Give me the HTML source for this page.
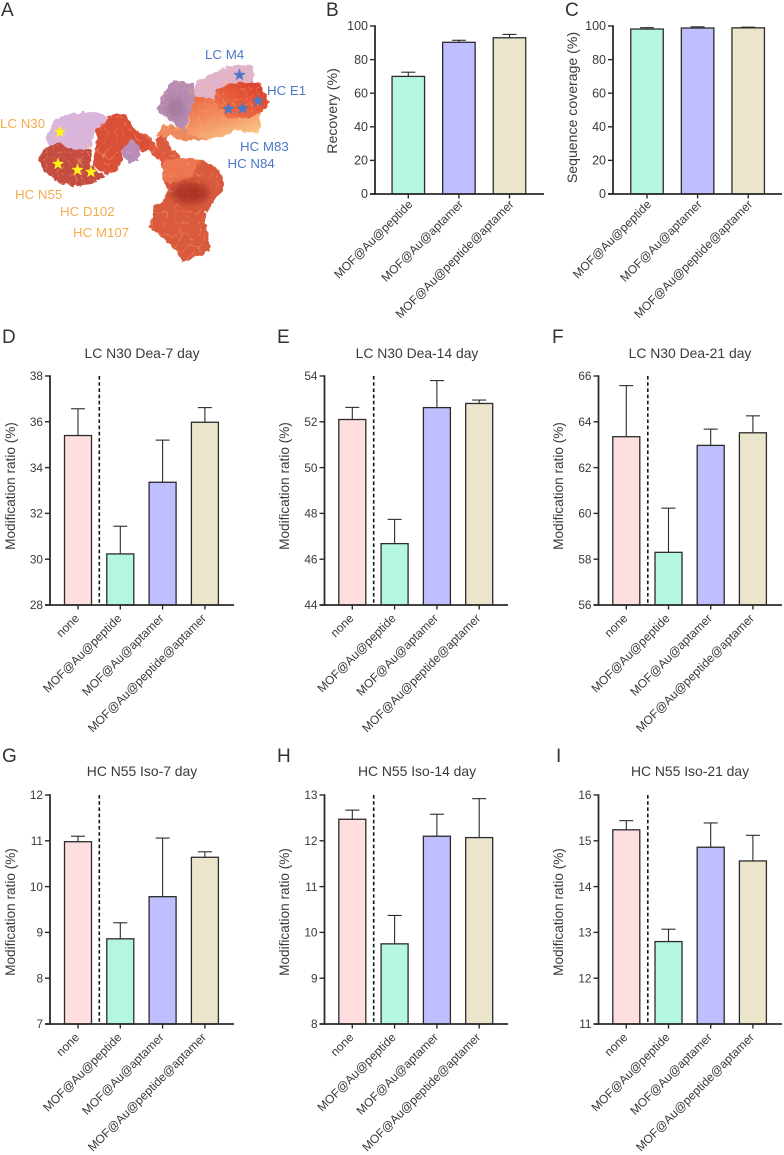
<!DOCTYPE html>
<html lang="en">
<head>
<meta charset="utf-8">
<title>MOF@Au modification ratio figure</title>
<style>
html,body{margin:0;padding:0;background:#fff;}
svg{display:block;font-family:"Liberation Sans",sans-serif;}
</style>
</head>
<body>
<svg id="fig" width="784" height="1155" viewBox="0 0 784 1155" xmlns="http://www.w3.org/2000/svg">
  <defs>
    <filter id="bumpy" x="-10%" y="-10%" width="120%" height="120%" color-interpolation-filters="sRGB">
      <feTurbulence type="fractalNoise" baseFrequency="0.16" numOctaves="2" seed="4" result="n"/>
      <feDisplacementMap in="SourceGraphic" in2="n" scale="6" xChannelSelector="R" yChannelSelector="G" result="d"/>
      <feTurbulence type="turbulence" baseFrequency="0.085" numOctaves="2" seed="9"/>
      <feColorMatrix type="matrix" values="0 0 0 0 1  0 0 0 0 0.72  0 0 0 0 0.5  -5 0 0 0 0.5" result="lines"/>
      <feComposite in="lines" in2="d" operator="in" result="veins"/>
      <feMerge><feMergeNode in="d"/><feMergeNode in="veins"/></feMerge>
    </filter>
    <filter id="soft" x="-30%" y="-30%" width="160%" height="160%"><feGaussianBlur stdDeviation="4"/></filter>
    <linearGradient id="orangeGrad" x1="0.2" y1="0" x2="0.8" y2="1">
      <stop offset="0" stop-color="#ee6d48"/><stop offset="0.55" stop-color="#f49a68"/><stop offset="1" stop-color="#fbd08e"/>
    </linearGradient>
    <linearGradient id="redGrad" x1="1" y1="0" x2="0" y2="1">
      <stop offset="0" stop-color="#d83a26"/><stop offset="1" stop-color="#f27a4e"/>
    </linearGradient>
  </defs>

  <g id="antibody">
    <g filter="url(#bumpy)">
      <path fill="#da5a3e" d="M156,139 L165,133 171,147 181,158 200,160 215,165 223,176 222,190 212,205 205,212 207,235 210,250 195,258 182,262 175,250 165,240 149,228 155,205 163,200 168,190 165,181 163,180 162,166 Z"/>
      <path fill="#ec7650" d="M163,158 L180,158 200,160 192,176 172,184 164,180 Z"/>
      <path fill="#e2583c" d="M137,130 L152,138 160,152 165,160 156,158 148,150 140,148 Z"/>
      <path fill="#d94f38" d="M96,130 L110,114 125,114 135,130 150,140 149,148 143,152 130,146 122,150 122,165 108,176 92,166 97,146 Z"/>
      <path fill="#c44c40" d="M43,150 L55,141 75,146 91,150 90,165 106,177 96,181 80,187 60,184 44,172 39,160 Z"/>
      <path fill="#d9b4dc" d="M47,137 L55,119 70,113 95,112 108,118 96,130 90,148 75,150 60,143 48,145 Z"/>
      <path fill="#b88cb8" d="M123,146 L132,140 141,148 139,160 128,164 122,155 Z"/>
      <path fill="#f08a5e" d="M156,137 L163,124 185,128 200,134 207,140 185,140 168,136 Z"/>
      <path fill="#b98cb2" d="M160,97 L173,80 193,83 197,97 190,117 185,132 167,118 157,113 Z"/>
      <path fill="#e1b4cc" d="M195,82 L215,72 235,64 254,66 254,84 230,88 222,102 195,100 Z"/>
      <path fill="url(#orangeGrad)" d="M195,97 L213,99 224,108 262,108 259,134 236,130 228,135 207,140 186,133 190,117 Z"/>
      <path fill="url(#redGrad)" d="M216,90 L232,83 260,83 269,103 262,112 250,118 228,118 222,112 214,102 Z"/>
    </g>
    <ellipse cx="190" cy="193" rx="19" ry="11" fill="#99281c" opacity="0.7" filter="url(#soft)"/>
    <ellipse cx="176" cy="108" rx="9" ry="12" fill="#8f6f8f" opacity="0.55" filter="url(#soft)"/>
  </g>

  <g id="stars"></g>

  <g id="site-labels" font-size="13.3">
    <text x="205" y="59" fill="#4a78c8">LC M4</text>
    <text x="267" y="95" fill="#4a78c8">HC E1</text>
    <text x="240" y="151" fill="#4a78c8">HC M83</text>
    <text x="227.5" y="168" fill="#4a78c8">HC N84</text>
    <text x="0" y="128" fill="#f5ab4e">LC N30</text>
    <text x="15" y="199" fill="#f5ab4e">HC N55</text>
    <text x="60" y="216" fill="#f5ab4e">HC D102</text>
    <text x="73" y="237" fill="#f5ab4e">HC M107</text>
  </g>

  <g id="panel-letters" fill="#333" font-size="19">
    <text x="1" y="16">A</text>
    <text x="326" y="16">B</text>
    <text x="565" y="16">C</text>
    <text x="2" y="343">D</text>
    <text x="277" y="343">E</text>
    <text x="552" y="343">F</text>
    <text x="2" y="762">G</text>
    <text x="277" y="762">H</text>
    <text x="556" y="762">I</text>
  </g>
  <g id="charts"></g>
</svg>

<script>
// ---------- Chart data ----------
const categoriesFour = ['none', 'MOF@Au@peptide', 'MOF@Au@aptamer', 'MOF@Au@peptide@aptamer'];
const categoriesThree = ['MOF@Au@peptide', 'MOF@Au@aptamer', 'MOF@Au@peptide@aptamer'];

const recoveryValues = [70, 90.3, 93];
const recoveryErrorTops = [72.5, 91.5, 95];
const recoveryTicks = [0, 20, 40, 60, 80, 100];

const coverageValues = [98.2, 98.8, 98.9];
const coverageErrorTops = [99, 99.5, 99.3];
const coverageTicks = [0, 20, 40, 60, 80, 100];

const lcN30Day7Values = [35.4, 30.23, 33.36, 35.98];
const lcN30Day7ErrorTops = [36.57, 31.44, 35.2, 36.62];
const lcN30Day7Ticks = [28, 30, 32, 34, 36, 38];

const lcN30Day14Values = [52.1, 46.68, 52.62, 52.8];
const lcN30Day14ErrorTops = [52.63, 47.74, 53.8, 52.95];
const lcN30Day14Ticks = [44, 46, 48, 50, 52, 54];

const lcN30Day21Values = [63.35, 58.3, 62.97, 63.52];
const lcN30Day21ErrorTops = [65.58, 60.23, 63.68, 64.26];
const lcN30Day21Ticks = [56, 58, 60, 62, 64, 66];

const hcN55Day7Values = [10.98, 8.86, 9.78, 10.64];
const hcN55Day7ErrorTops = [11.1, 9.21, 11.06, 10.76];
const hcN55Day7Ticks = [7, 8, 9, 10, 11, 12];

const hcN55Day14Values = [12.47, 9.75, 12.1, 12.07];
const hcN55Day14ErrorTops = [12.67, 10.37, 12.58, 12.92];
const hcN55Day14Ticks = [8, 9, 10, 11, 12, 13];

const hcN55Day21Values = [15.24, 12.8, 14.86, 14.56];
const hcN55Day21ErrorTops = [15.44, 13.07, 15.39, 15.12];
const hcN55Day21Ticks = [11, 12, 13, 14, 15, 16];

// ---------- Drawing ----------
const NS = 'http://www.w3.org/2000/svg';
const INK = '#2b2b2b';
const TEXT = '#3a3a3a';
const PINK = '#ffdee0', GREEN = '#b5f7de', PURPLE = '#bfbfff', BEIGE = '#ebe6cb';
const chartsRoot = document.getElementById('charts');

function make(tag, attrs, parent, text) {
  const el = document.createElementNS(NS, tag);
  for (const k in attrs) el.setAttribute(k, attrs[k]);
  if (text !== undefined) el.textContent = text;
  parent.appendChild(el);
  return el;
}

function drawChart(cfg) {
  const g = make('g', {}, chartsRoot);
  
  

  const lo = cfg.ticks[0], hi = cfg.ticks[cfg.ticks.length - 1];
  const yScale = v => cfg.bottom - (v - lo) / (hi - lo) * (cfg.bottom - cfg.top);
  const xScale = i => cfg.firstCenter + i * cfg.step;

  // bars and error bars
  cfg.values.forEach((v, i) => {
    const cx = xScale(i), y = yScale(v), yTop = yScale(cfg.errorTops[i]);
    const stem = make('line', {x1: cx, x2: cx, y1: y, y2: yTop, stroke: INK, 'stroke-width': 1.1}, g);
    
    
    const cap = make('line', {x1: cx - 7, x2: cx + 7, y1: yTop, y2: yTop, stroke: INK, 'stroke-width': 1.1}, g);
    
    
    const bar = make('rect', {x: cx - cfg.barWidth / 2, y: y, width: cfg.barWidth, height: cfg.bottom - y, fill: cfg.colors[i], stroke: INK, 'stroke-width': 1.3}, g);
    
    
  });

  // dashed separator
  if (cfg.dashX) {
    const dash = make('line', {x1: cfg.dashX, x2: cfg.dashX, y1: cfg.top, y2: cfg.bottom, stroke: '#111', 'stroke-width': 1.6, 'stroke-dasharray': '3.6 2.6'}, g);
    
    
  }

  // y axis
  const yAxis = make('line', {x1: cfg.axisX, x2: cfg.axisX, y1: cfg.top - 0.8, y2: cfg.bottom + 0.8, stroke: INK, 'stroke-width': 1.8}, g);
  
  
  cfg.ticks.forEach(t => {
    const y = yScale(t);
    const tick = make('line', {x1: cfg.axisX - 5, x2: cfg.axisX, y1: y, y2: y, stroke: INK, 'stroke-width': 1.4}, g);
    
    
    const lab = make('text', {x: cfg.axisX - 7, y: y + 4.2, 'text-anchor': 'end', 'font-size': cfg.tickFont, fill: TEXT}, g, String(t));
    
    
  });

  // x axis
  const xAxis = make('line', {x1: cfg.axisX - 5, x2: cfg.axisRight, y1: cfg.bottom, y2: cfg.bottom, stroke: INK, 'stroke-width': 1.7}, g);
  
  
  cfg.categories.forEach((c, i) => {
    const cx = xScale(i);
    const tick = make('line', {x1: cx, x2: cx, y1: cfg.bottom, y2: cfg.bottom + 4.5, stroke: INK, 'stroke-width': 1.4}, g);
    
    
    const lx = cx + cfg.labelDx, ly = cfg.bottom + cfg.labelDy;
    const lab = make('text', {x: lx, y: ly, 'text-anchor': 'end', 'font-size': 12, fill: TEXT, transform: 'rotate(-45 ' + lx + ' ' + ly + ')'}, g, c);
    
    
  });

  // y title
  const yt = make('text', {x: 0, y: 0, 'text-anchor': 'middle', 'font-size': cfg.yTitleFont, fill: TEXT, transform: 'translate(' + cfg.yTitleX + ' ' + cfg.yTitleY + ') rotate(-90)'}, g, cfg.yTitle);
  
  

  // chart title
  if (cfg.title) {
    const tt = make('text', {x: cfg.titleX, y: cfg.titleY, 'text-anchor': 'middle', 'font-size': 13.9, fill: TEXT}, g, cfg.title);
    
    
  }
}

const threeColors = [GREEN, PURPLE, BEIGE];
const fourColors = [PINK, GREEN, PURPLE, BEIGE];

drawChart({id: 'recovery', categories: categoriesThree, values: recoveryValues, errorTops: recoveryErrorTops, ticks: recoveryTicks, colors: threeColors,
  axisX: 375, axisRight: 544, top: 26, bottom: 194, firstCenter: 408.3, step: 50.6, barWidth: 32.5, tickFont: 12.5, labelDx: 5, labelDy: 11, yTitleFont: 14.1,
  yTitle: 'Recovery (%)', yTitleX: 337, yTitleY: 111});
drawChart({id: 'sequence-coverage', categories: categoriesThree, values: coverageValues, errorTops: coverageErrorTops, ticks: coverageTicks, colors: threeColors,
  axisX: 613, axisRight: 782, top: 26, bottom: 194, firstCenter: 647, step: 50.6, barWidth: 32.5, tickFont: 12.5, labelDx: 5, labelDy: 11, yTitleFont: 14.1,
  yTitle: 'Sequence coverage (%)', yTitleX: 577, yTitleY: 107.5});

const rowOne = {top: 376, bottom: 605, titleY: 358, yTitleY: 486};
const rowTwo = {top: 795, bottom: 1024, titleY: 776, yTitleY: 912};
const colOne = {axisX: 50, axisRight: 234, firstCenter: 78, step: 42.3, dashX: 99.3, yTitleX: 15, titleX: 142};
const colTwo = {axisX: 324.5, axisRight: 508, firstCenter: 352.3, step: 42.3, dashX: 373.7, yTitleX: 289, titleX: 417};
const colThree = {axisX: 598.5, axisRight: 782, firstCenter: 626.3, step: 42.2, dashX: 647.8, yTitleX: 563, titleX: 690};

function small(id, title, values, errorTops, ticks, row, col) {
  drawChart(Object.assign({id, title, values, errorTops, ticks, categories: categoriesFour, colors: fourColors, barWidth: 27, tickFont: 11.8, labelDx: 2, labelDy: 14, yTitleFont: 13.6, yTitle: 'Modification ratio (%)'}, row, col));
}
small('lc-n30-day-7', 'LC N30 Dea-7 day', lcN30Day7Values, lcN30Day7ErrorTops, lcN30Day7Ticks, rowOne, colOne);
small('lc-n30-day-14', 'LC N30 Dea-14 day', lcN30Day14Values, lcN30Day14ErrorTops, lcN30Day14Ticks, rowOne, colTwo);
small('lc-n30-day-21', 'LC N30 Dea-21 day', lcN30Day21Values, lcN30Day21ErrorTops, lcN30Day21Ticks, rowOne, colThree);
small('hc-n55-day-7', 'HC N55 Iso-7 day', hcN55Day7Values, hcN55Day7ErrorTops, hcN55Day7Ticks, rowTwo, colOne);
small('hc-n55-day-14', 'HC N55 Iso-14 day', hcN55Day14Values, hcN55Day14ErrorTops, hcN55Day14Ticks, rowTwo, colTwo);
small('hc-n55-day-21', 'HC N55 Iso-21 day', hcN55Day21Values, hcN55Day21ErrorTops, hcN55Day21Ticks, rowTwo, colThree);

// ---------- Stars on the structure ----------
const starsRoot = document.getElementById('stars');
function starPoints(cx, cy, R) {
  const pts = [];
  for (let k = 0; k < 10; k++) {
    const r = k % 2 ? R * 0.42 : R;
    const a = -Math.PI / 2 + k * Math.PI / 5;
    pts.push((cx + r * Math.cos(a)).toFixed(1) + ',' + (cy + r * Math.sin(a)).toFixed(1));
  }
  return pts.join(' ');
}
[[239.5, 75], [228.5, 109], [242.5, 108.5], [258, 101]].forEach(p => {
  const s = make('polygon', {points: starPoints(p[0], p[1], 6.6), fill: '#4a78c8'}, starsRoot);
  
  
});
[[60, 132], [58, 164], [77.5, 170], [91, 172]].forEach(p => {
  const s = make('polygon', {points: starPoints(p[0], p[1], 6.4), fill: '#fff21a'}, starsRoot);
  
  
});
</script>
</body>
</html>
